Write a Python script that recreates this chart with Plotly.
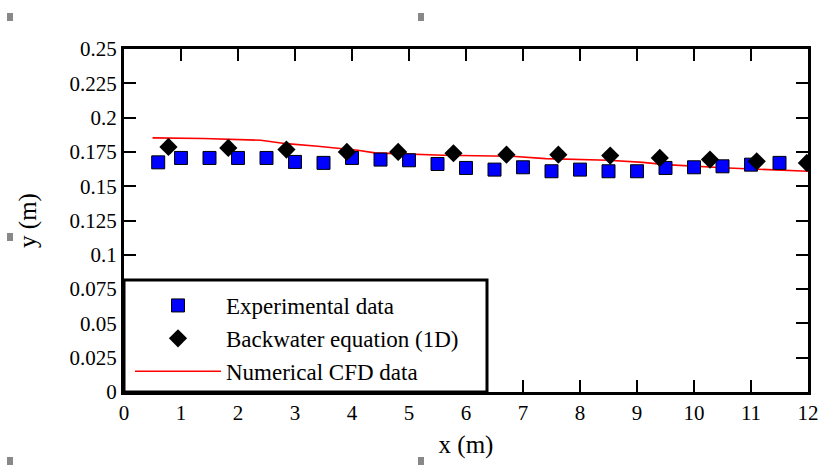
import plotly.graph_objects as go

# Experimental data (blue squares)
exp_x = [0.6, 1.0, 1.5, 2.0, 2.5, 3.0, 3.5, 4.0, 4.5, 5.0, 5.5, 6.0, 6.5, 7.0, 7.5, 8.0, 8.5, 9.0, 9.5, 10.0, 10.5, 11.0, 11.5]
exp_y = [0.1674, 0.1706, 0.1706, 0.1706, 0.1706, 0.1677, 0.1670, 0.1706, 0.1694, 0.1689, 0.1662,
         0.1633, 0.1621, 0.1638, 0.1609, 0.1621, 0.1609, 0.1609, 0.1633, 0.1638, 0.1645, 0.1657, 0.1670]

# Backwater equation (1D) (black diamonds)
bw_x = [0.78, 1.83, 2.85, 3.91, 4.81, 5.78, 6.71, 7.62, 8.53, 9.40, 10.28, 11.1, 11.98]
bw_y = [0.1786, 0.1779, 0.1767, 0.1750, 0.1750, 0.1740, 0.1730, 0.1730, 0.1723, 0.1706, 0.1694, 0.1681, 0.1670]

# Numerical CFD data (red line)
cfd_x = [0.5, 1.4, 2.4, 2.85, 3.4, 4.1, 4.4, 5.6, 6.8, 7.4, 8.5, 9.1, 9.5, 10.6, 12.0]
cfd_y = [0.1852, 0.1848, 0.1835, 0.1810, 0.1791, 0.1762, 0.1743, 0.1726, 0.1718, 0.1701, 0.1689, 0.1674, 0.1657, 0.1633, 0.1609]

x_ticks = list(range(0, 13))
y_tickvals = [0, 0.025, 0.05, 0.075, 0.1, 0.125, 0.15, 0.175, 0.2, 0.225, 0.25]
y_ticktext = ["0", "0.025", "0.05", "0.075", "0.1", "0.125", "0.15", "0.175", "0.2", "0.225", "0.25"]

FONT = "Liberation Serif, Times New Roman, serif"

fig = go.Figure()
fig.add_trace(go.Scatter(
    x=cfd_x, y=cfd_y, mode="lines", name="Numerical CFD data",
    line=dict(color="#FF0000", width=1.6), legendrank=3))
fig.add_trace(go.Scatter(
    x=exp_x, y=exp_y, mode="markers", name="Experimental data",
    marker=dict(symbol="square", size=13, color="#0000FF", line=dict(color="black", width=1)),
    legendrank=1))
fig.add_trace(go.Scatter(
    x=bw_x, y=bw_y, mode="markers", name="Backwater equation (1D)",
    marker=dict(symbol="diamond", size=14, color="black", line=dict(color="black", width=0)),
    legendrank=2))

W, H = 823, 465
PL, PR, PT, PB = 124, 808, 49, 392
L, R, T, B = PL, W - PR, PT, H - PB
pw, ph = PR - PL, PB - PT

def px(x):
    return (x - PL) / pw

def py(y):
    return (PB - y) / ph

shapes = [
    dict(type="rect", xref="paper", yref="paper", x0=0, x1=px(487), y0=0, y1=py(280),
         fillcolor="white", line=dict(color="black", width=3), layer="above"),
]
for (gx, gy) in [(10, 17), (421, 17), (10, 461), (421, 461), (10, 237)]:
    shapes.append(dict(type="rect", xref="paper", yref="paper",
                       x0=px(gx - 3), x1=px(gx + 3), y0=py(gy + 4), y1=py(gy - 4),
                       fillcolor="#888888", line=dict(width=0), layer="above"))

axis_common = dict(showline=True, linecolor="black", linewidth=3, mirror="ticks",
                   ticks="inside", ticklen=12, tickwidth=2, tickcolor="black",
                   showgrid=False, zeroline=False, automargin=False,
                   tickfont=dict(family=FONT, size=21, color="black"))

fig.update_layout(
    width=W, height=H,
    margin=dict(l=L, r=R, t=T, b=B),
    paper_bgcolor="white", plot_bgcolor="white",
    font=dict(family=FONT, size=21, color="black"),
    xaxis=dict(range=[0, 12], tickvals=x_ticks, title=dict(text="x (m)", standoff=12), **axis_common),
    yaxis=dict(range=[0, 0.25], tickvals=y_tickvals, ticktext=y_ticktext,
               title=dict(text="y (m)", standoff=26), **axis_common),
    legend=dict(x=px(130), y=py(284), xanchor="left", yanchor="top",
                bgcolor="rgba(0,0,0,0)", borderwidth=0, itemwidth=86,
                tracegroupgap=0, font=dict(family=FONT, size=23, color="black")),
    shapes=shapes,
    showlegend=True,
)

fig.write_html("out.html",
               config={"displayModeBar": False},
               post_script="document.body.style.margin='0';document.body.style.overflow='hidden';")
